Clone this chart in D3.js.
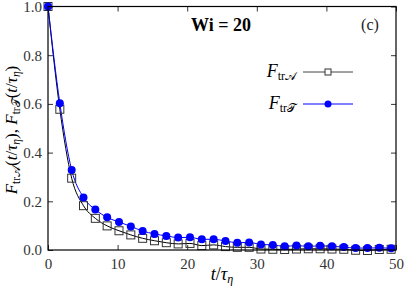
<!DOCTYPE html>
<html><head><meta charset="utf-8">
<script src="https://cdn.jsdelivr.net/npm/d3@7"></script>
<style>
html,body{margin:0;padding:0;background:#fff;}
svg text{font-family:'Liberation Serif';}
</style>
</head><body>
<svg id="c" width="407" height="290" font-family="Liberation Serif"></svg>
<script>
const tValues = [0,1.7,3.4,5.1,6.8,8.5,10.2,11.9,13.6,15.3,17,18.7,20.4,22.1,23.8,25.5,27.2,28.9,30.6,32.3,34,35.7,37.4,39.1,40.8,42.5,44.2,45.9,47.6,49.3];
const fA = [1.0,0.578,0.295,0.182,0.130,0.099,0.079,0.062,0.048,0.038,0.030,0.025,0.027,0.018,0.021,0.014,0.011,0.011,0.004,0.003,0.002,0.004,0.005,0.005,0.004,0.003,-0.001,-0.002,0.002,0.003];
const fT = [1.0,0.603,0.329,0.216,0.166,0.134,0.115,0.097,0.078,0.066,0.058,0.051,0.052,0.044,0.044,0.037,0.030,0.031,0.023,0.021,0.015,0.018,0.015,0.017,0.015,0.012,0.008,0.008,0.009,0.007];
const xTicks = [0,10,20,30,40,50];
const yTicks = [0.0,0.2,0.4,0.6,0.8,1.0];

const FONT = "Liberation Serif";
const svg = d3.select("#c");
const L=48, R=396, T=6.5, B=250;
const x = d3.scaleLinear().domain([0,50]).range([L,R]);
const y = d3.scaleLinear().domain([0,1]).range([B,T]);

function txt(sel){ return sel.attr("font-family",FONT).style("font-family",FONT); }

const fs = 15;
const g = svg.append("g");
g.append("g").attr("transform",`translate(0,${B})`)
  .call(d3.axisBottom(x).tickValues(xTicks).tickSizeInner(-5).tickSizeOuter(0).tickPadding(8).tickFormat(d3.format("d")));
g.append("g").attr("transform",`translate(0,${T})`)
  .call(d3.axisTop(x).tickValues(xTicks).tickSizeInner(-5).tickSizeOuter(0).tickFormat(""));
g.append("g").attr("transform",`translate(${L},0)`)
  .call(d3.axisLeft(y).tickValues(yTicks).tickSizeInner(-5).tickSizeOuter(0).tickPadding(6).tickFormat(d3.format(".1f")));
g.append("g").attr("transform",`translate(${R},0)`)
  .call(d3.axisRight(y).tickValues(yTicks).tickSizeInner(-5).tickSizeOuter(0).tickFormat(""));
g.selectAll(".domain").remove();
g.selectAll("g").attr("font-family",FONT).attr("font-size",fs);
g.selectAll(".tick line").attr("stroke","#000").attr("stroke-width",0.8);
txt(g.selectAll(".tick text")).style("font-size",fs+"px").attr("fill","#333");

const ptsA = tValues.map((t,i)=>[t,fA[i]]);
const ptsT = tValues.map((t,i)=>[t,fT[i]]);
const line = d3.line().x(d=>x(d[0])).y(d=>y(d[1])).curve(d3.curveMonotoneX);

svg.append("path").attr("d",line(ptsA)).attr("fill","none").attr("stroke","#000").attr("stroke-width",1);
svg.append("path").attr("d",line(ptsT)).attr("fill","none").attr("stroke","#0000ff").attr("stroke-width",1);

svg.append("g").selectAll("rect").data(ptsA).join("rect")
  .attr("x",d=>x(d[0])-4).attr("y",d=>y(d[1])-4).attr("width",8).attr("height",8)
  .attr("fill","none").attr("stroke","#333").attr("stroke-width",1);
svg.append("g").selectAll("circle").data(ptsT).join("circle")
  .attr("cx",d=>x(d[0])).attr("cy",d=>y(d[1])).attr("r",4).attr("fill","#0000ff");

// frame
svg.append("rect").attr("x",L).attr("y",T).attr("width",R-L).attr("height",B-T)
  .attr("fill","none").attr("stroke","#000").attr("stroke-width",1.2);

// title
txt(svg.append("text")).attr("x",221).attr("y",31).attr("text-anchor","middle")
  .style("font-size","18px").attr("font-weight","bold").text("Wi = 20");
txt(svg.append("text")).attr("x",370).attr("y",30).attr("text-anchor","middle")
  .style("font-size","16px").attr("fill","#222").text("(c)");

// legend
function fLabel(sel, letter){
  sel.append("tspan").attr("font-style","italic").text("F");
  sel.append("tspan").style("font-size","12px").attr("dy",3).text("tr");
  sel.append("tspan").style("font-size","12px").style("font-family","DejaVu Sans").text(letter);
}
const legY = [72,104];
const t1 = txt(svg.append("text")).attr("x",296).attr("y",legY[0]+5).attr("text-anchor","end").style("font-size","18px");
fLabel(t1,"\u{1D49C}");
const t2 = txt(svg.append("text")).attr("x",296).attr("y",legY[1]+5).attr("text-anchor","end").style("font-size","18px");
fLabel(t2,"\u{1D4AF}");
svg.append("line").attr("x1",303).attr("x2",353).attr("y1",legY[0]).attr("y2",legY[0]).attr("stroke","#444").attr("stroke-width",1);
svg.append("rect").attr("x",325).attr("y",legY[0]-3).attr("width",6).attr("height",6).attr("fill","#fff").attr("stroke","#333");
svg.append("line").attr("x1",303).attr("x2",353).attr("y1",legY[1]).attr("y2",legY[1]).attr("stroke","#0000ff").attr("stroke-width",1);
svg.append("circle").attr("cx",328).attr("cy",legY[1]).attr("r",3.5).attr("fill","#0000ff");

// x label
const xl = txt(svg.append("text")).attr("x",222).attr("y",280).attr("text-anchor","middle").style("font-size","18px");
xl.append("tspan").attr("font-style","italic").text("t");
xl.append("tspan").text("/");
xl.append("tspan").attr("font-style","italic").text("τ");
xl.append("tspan").attr("font-style","italic").style("font-size","12px").attr("dy",3).text("η");

// y label
const yl = txt(svg.append("text")).attr("transform","translate(17,130) rotate(-90)").attr("text-anchor","middle").style("font-size","17px");
function part(sel, letter){
  sel.append("tspan").attr("font-style","italic").text("F");
  sel.append("tspan").style("font-size","11.5px").attr("dy",3).text("tr");
  sel.append("tspan").style("font-size","11.5px").style("font-family","DejaVu Sans").text(letter);
  sel.append("tspan").attr("dy",-3).text("(");
  sel.append("tspan").attr("font-style","italic").text("t");
  sel.append("tspan").text("/");
  sel.append("tspan").attr("font-style","italic").text("τ");
  sel.append("tspan").attr("font-style","italic").style("font-size","11.5px").attr("dy",3).text("η");
  sel.append("tspan").attr("dy",-3).text(")");
}
part(yl,"\u{1D49C}");
yl.append("tspan").text(",  ");
part(yl,"\u{1D4AF}");
</script>
</body></html>
